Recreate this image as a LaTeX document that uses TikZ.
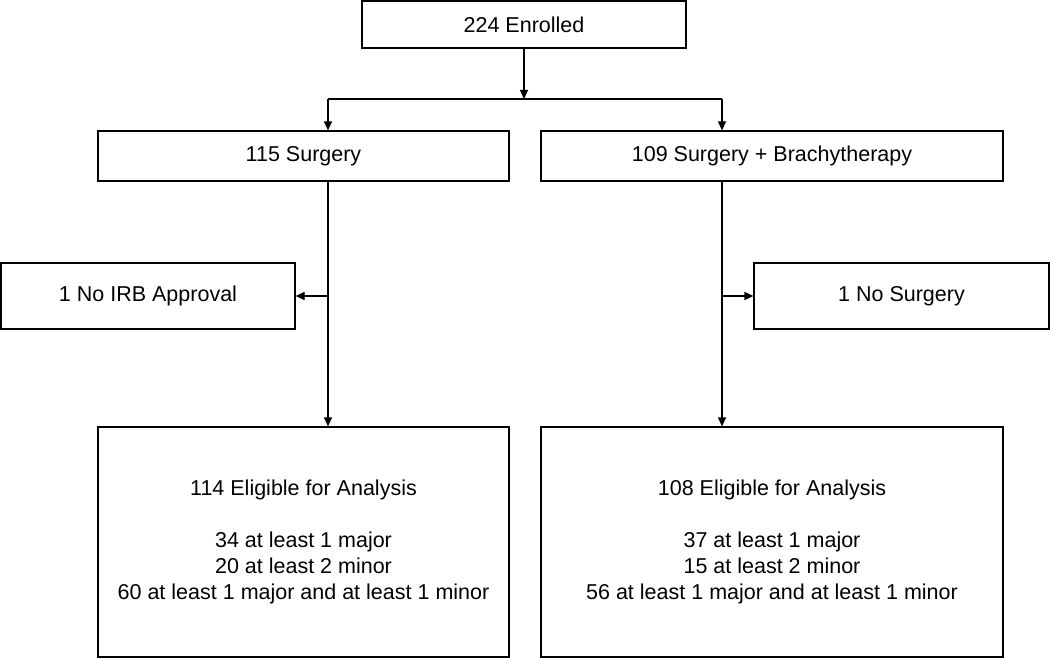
\documentclass[tikz,border=0pt]{standalone}
\usepackage{fontspec}
\setmainfont{Liberation Sans}
\usetikzlibrary{arrows.meta}
\begin{document}
\begin{tikzpicture}[x=1pt,y=-1pt,
  box/.style={draw,line width=1.2pt,minimum width=#1,inner sep=0pt,align=center,
    font=\fontsize{21.5}{26}\selectfont},
  arr/.style={line width=1.2pt,-{Triangle[length=9pt,width=8pt]}},
  ln/.style={line width=1.2pt}]
\useasboundingbox (0,0) rectangle (1050,658);
\node[box=324pt,minimum height=47pt] (enr) at (524,24.5) {224 Enrolled};
\node[box=411pt,minimum height=50pt] (s1) at (303.5,156) {115 Surgery};
\node[box=462pt,minimum height=50pt] (s2) at (772,156) {109 Surgery + Brachytherapy};
\node[box=294pt,minimum height=66pt] (irb) at (148,296) {1 No IRB Approval};
\node[box=295pt,minimum height=66pt] (nos) at (901.5,296) {1 No Surgery};
\node[box=411pt,minimum height=230pt] (e1) at (303.5,542) {114 Eligible for Analysis\\[26pt]34 at least 1 major\\20 at least 2 minor\\60 at least 1 major and at least 1 minor};
\node[box=462pt,minimum height=230pt] (e2) at (772,542) {108 Eligible for Analysis\\[26pt]37 at least 1 major\\15 at least 2 minor\\56 at least 1 major and at least 1 minor};
\coordinate (j) at (524,99);
\coordinate (jl) at (328,99);
\coordinate (jr) at (722,99);
\coordinate (bl) at (328,296);
\coordinate (br) at (722,296);
\draw[arr] (enr.south) -- (j);
\draw[ln] (jl) -- (jr);
\draw[arr] (jl) -- (jl |- s1.north);
\draw[arr] (jr) -- (jr |- s2.north);
\draw[arr] (jl |- s1.south) -- (jl |- e1.north);
\draw[arr] (jr |- s2.south) -- (jr |- e2.north);
\draw[arr] (bl) -- (irb.east);
\draw[arr] (br) -- (nos.west);
\end{tikzpicture}
\end{document}
